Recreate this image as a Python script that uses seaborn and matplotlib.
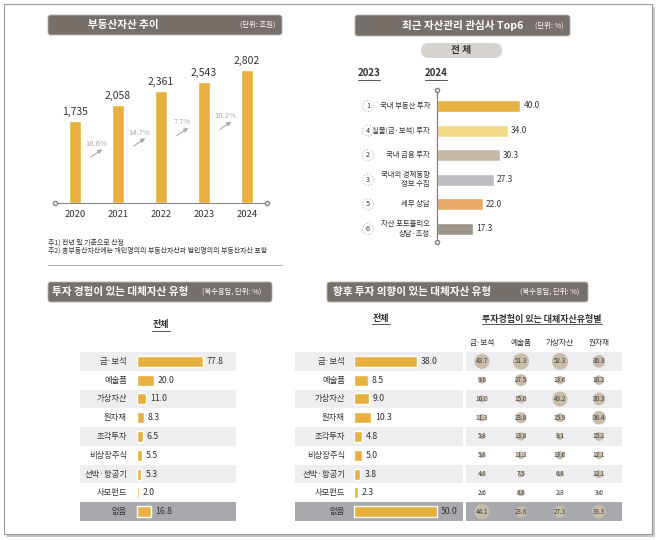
import matplotlib
matplotlib.use("Agg")
import matplotlib.pyplot as plt
import seaborn as sns
import pandas as pd
from matplotlib.patches import Rectangle, FancyBboxPatch
from matplotlib.lines import Line2D

# ---- data ----
years = ['2020', '2021', '2022', '2023', '2024']
re_assets = [1735, 2058, 2361, 2543, 2802]          # 조원
re_growth = [18.6, 14.7, 7.7, 10.2]                 # %

concerns = ['국내 부동산 투자', '실물(금·보석) 투자', '국내 금융 투자',
            '국내외 경제동향\n정보 수집', '세무 상담', '자산 포트폴리오\n상담·조정']
concern_2024 = [40.0, 34.0, 30.3, 27.3, 22.0, 17.3]
rank_2023 = [1, 4, 2, 3, 5, 6]

alt_types = ['금·보석', '예술품', '가상자산', '원자재', '조각투자',
             '비상장주식', '선박·항공기', '사모펀드', '없음']
experienced = [77.8, 20.0, 11.0, 8.3, 6.5, 5.5, 5.3, 2.0, 16.8]
intended = [38.0, 8.5, 9.0, 10.3, 4.8, 5.0, 3.8, 2.3, 50.0]

exp_groups = ['금·보석', '예술품', '가상자산', '원자재']
intend_gold = [43.7, 9.6, 10.0, 11.3, 5.8, 5.8, 4.8, 2.6, 44.1]
intend_art = [51.3, 27.5, 15.0, 23.8, 13.8, 11.3, 7.5, 8.8, 23.8]
intend_crypto = [52.3, 13.6, 43.2, 15.9, 9.1, 13.6, 6.8, 2.3, 27.3]
intend_commod = [30.3, 18.2, 30.3, 36.4, 15.2, 12.1, 12.1, 3.0, 33.3]

# ---- style ----
sns.set_theme(style="white")
plt.rcParams['font.family'] = ['Noto Sans CJK KR', 'DejaVu Sans']

GOLD = '#e8b13f'
HEAD = '#77706a'
DARK = '#333333'
BAND = '#eeeef0'
BAND_DARK = '#a8a9ad'
concern_colors = ['#e8b13f', '#f4d88a', '#c4b8a6', '#bdbdc1', '#e8a86a', '#9c9489']

W, H = 658, 540
fig = plt.figure(figsize=(W / 100, H / 100), dpi=100)


def box(x0, y0, x1, y1):
    return [x0 / W, 1 - y1 / H, (x1 - x0) / W, (y1 - y0) / H]


def ftext(x, y, s, **kw):
    fig.text(x / W, 1 - y / H, s, **kw)


def fline(x0, x1, y0, y1, **kw):
    fig.add_artist(Line2D([x0 / W, x1 / W], [1 - y0 / H, 1 - y1 / H], **kw))


def header(x0, x1, y0, y1, title, unit, tx, ux, title_ha='center'):
    fig.add_artist(FancyBboxPatch((x0 / W, 1 - y1 / H), (x1 - x0) / W, (y1 - y0) / H,
                                  boxstyle='round,pad=0,rounding_size=0.004', fc=HEAD,
                                  ec='#b9b4af', lw=0.6, mutation_aspect=W / H,
                                  transform=fig.transFigure))
    ym = (y0 + y1) / 2
    ftext(tx, ym, title, color='white', fontsize=7.6, fontweight='bold', ha=title_ha, va='center')
    ftext(ux, ym, unit, color='white', fontsize=5.3, ha='center', va='center')


def underlined(x, y, s, x0, x1, yl, size=6.5):
    ftext(x, y, s, fontsize=size, fontweight='bold', color=DARK, ha='center', va='center')
    fline(x0, x1, yl, yl, color='#555555', lw=0.7)


def px2pt(p):
    return p * 72 / 100


# outer frame with shadow
fig.add_artist(Rectangle((7 / W, 1 - 537 / H), 648 / W, 530 / H, fc='#c8c8c8', ec='none',
                         transform=fig.transFigure, zorder=-5))
fig.add_artist(Rectangle((4 / W, 1 - 534 / H), 648 / W, 530 / H, fc='white', ec='#9a9a9a', lw=0.8,
                         transform=fig.transFigure, zorder=-4))

# ---------------- panel 1: 부동산자산 추이 ----------------
header(48, 282, 15, 35, '부동산자산 추이', '(단위: 조원)', 123, 258)
ax1 = fig.add_axes(box(55, 60, 267, 203))
sns.barplot(x=years, y=re_assets, color=GOLD, width=0.28, saturation=1, ax=ax1)
ax1.set_xlim(-0.465, 4.465)
ax1.set_ylim(0, 3013)
ax1.axis('off')
ax1.plot([-0.465, 4.465], [0, 0], color='#8a8a8a', lw=0.8, marker='o', markersize=3,
         mfc='white', mec='#8a8a8a', clip_on=False)
for i, v in enumerate(re_assets):
    ax1.annotate(f'{v:,}', (i, v), xytext=(0, px2pt(4)), textcoords='offset points',
                 ha='center', va='bottom', fontsize=7.5, color=DARK)
    ax1.annotate(years[i], (i, 0), xytext=(0, px2pt(-11)), textcoords='offset points',
                 ha='center', va='center', fontsize=6.8, color=DARK)
for i, g in enumerate(re_growth):
    ty = 0.72 * re_assets[i]
    ax1.text(i + 0.5, ty, f'{g}%', ha='center', va='center', fontsize=5.5, color='#a8a8a8')
    ax1.annotate('', xy=(i + 0.686, ty - 84), xytext=(px2pt(-16), px2pt(-11)),
                 textcoords='offset points',
                 arrowprops=dict(arrowstyle='-|>', color='#a8a8a8', lw=0.8, mutation_scale=6))

ftext(48, 243, '주1) 전년 말 기준으로 산정', fontsize=5, color=DARK, va='center')
ftext(48, 251, '주2) 총부동산자산에는 개인명의의 부동산자산과 법인명의의 부동산자산 포함',
      fontsize=5, color=DARK, va='center')
fline(48, 282, 265, 265, color='#b5b5b5', lw=0.8)

# ---------------- panel 2: 관심사 Top6 ----------------
header(355, 570, 15, 36, '최근 자산관리 관심사 Top6', '(단위: %)', 463, 549)
fig.add_artist(FancyBboxPatch((421 / W, 1 - 58 / H), 81 / W, 15 / H,
                              boxstyle='round,pad=0,rounding_size=0.012', fc='#d6d2ce', ec='none',
                              transform=fig.transFigure, mutation_aspect=W / H))
ftext(461, 50.5, '전 체', fontsize=7, fontweight='bold', color=DARK, ha='center', va='center')
underlined(369, 73, '2023', 358, 380, 80, size=7)
underlined(436, 73, '2024', 425, 447, 80, size=7)

ax2 = fig.add_axes(box(437, 90, 560, 242))
sns.barplot(x=concern_2024, y=concerns, hue=concerns, palette=concern_colors, legend=False,
            width=0.49, saturation=1, orient='h', ax=ax2)
ax2.set_xlim(0, 59)
ax2.set_ylim(5.53, -0.65)
ax2.axis('off')
ax2.plot([0, 0], [-0.65, 5.53], color='#8a7f76', lw=0.9, marker='o', markersize=3,
         mfc='white', mec='#8a7f76', clip_on=False)
for i, (lab, v, r) in enumerate(zip(concerns, concern_2024, rank_2023)):
    ax2.annotate(lab, (0, i), xytext=(px2pt(-7), 0), textcoords='offset points',
                 ha='right', va='center', fontsize=5.3, color=DARK, linespacing=1.2)
    ax2.annotate(f'{v:.1f}', (v, i), xytext=(px2pt(3), 0), textcoords='offset points',
                 ha='left', va='center', fontsize=6, color=DARK)
    ax2.annotate(str(r), (0, i), xytext=(px2pt(-69), 0), textcoords='offset points',
                 ha='center', va='center', fontsize=5.2, color=DARK,
                 bbox=dict(boxstyle='circle,pad=0.22', fc='white', ec='#bdbdbd', lw=0.8, ls=':'))

# ---------------- panel 3: 투자 경험 ----------------
header(48, 272, 282, 302, '투자 경험이 있는 대체자산 유형', '(복수응답, 단위: %)', 52, 232,
       title_ha='left')
underlined(161, 325, '전체', 152, 170, 331)


def bands(ax, n):
    for i in range(n):
        if i == n - 1:
            ax.axhspan(i - 0.5, i + 0.5, color=BAND_DARK, zorder=0, lw=0)
        elif i % 2 == 0:
            ax.axhspan(i - 0.5, i + 0.5, color=BAND, zorder=0, lw=0)


def bar_table(rect, values, zero_px, scale, label_gap):
    x0, y0, x1, y1 = rect
    ax = fig.add_axes(box(x0, y0, x1, y1))
    sns.barplot(x=values, y=alt_types, color=GOLD, width=0.58, saturation=1, orient='h', ax=ax)
    ax.set_xlim(-(zero_px - x0) / scale, (x1 - zero_px) / scale)
    ax.set_ylim(len(alt_types) - 0.5, -0.5)
    ax.axis('off')
    bands(ax, len(alt_types))
    for i, (lab, v) in enumerate(zip(alt_types, values)):
        ax.annotate(lab, (0, i), xytext=(px2pt(-label_gap), 0), textcoords='offset points',
                    ha='right', va='center', fontsize=6, color=DARK)
        ax.annotate(f'{v:.1f}', (v, i), xytext=(px2pt(4), 0), textcoords='offset points',
                    ha='left', va='center', fontsize=6.3, color=DARK)
    return ax


bar_table((80, 352, 236, 521), experienced, 137, 0.848, 10)

# ---------------- panel 4: 향후 투자 의향 ----------------
header(327, 588, 282, 302, '향후 투자 의향이 있는 대체자산 유형', '(복수응답, 단위: %)', 333, 550,
       title_ha='left')
underlined(381, 319, '전체', 372, 390, 324)
underlined(542, 319, '투자경험이 있는 대체자산유형별', 482, 602, 324)

bar_table((295, 352, 463, 521), intended, 354, 1.65, 9)

ax5 = fig.add_axes(box(466, 352, 622, 521))
cross = pd.DataFrame({'금·보석': intend_gold, '예술품': intend_art,
                      '가상자산': intend_crypto, '원자재': intend_commod}, index=alt_types)
long = cross.reset_index(names='type').melt(id_vars='type', var_name='group', value_name='pct')
sns.scatterplot(data=long, x='group', y='type', size='pct', sizes=(2.7 * 2.3, 2.7 * 52.3),
                size_norm=(2.3, 52.3), color='#c9bda9', edgecolor='none', legend=False,
                ax=ax5, zorder=3)
ax5.set_xlim(-0.41, 3.59)
ax5.set_ylim(len(alt_types) - 0.5, -0.5)
ax5.axis('off')
bands(ax5, len(alt_types))
for j, g in enumerate(exp_groups):
    ax5.text(j, -0.96, g, ha='center', va='center', fontsize=5.5, color=DARK)
    for i, v in enumerate(cross[g]):
        ax5.text(j, i, f'{v:.1f}', ha='center', va='center', fontsize=4.6, color='#3a3a3a',
                 zorder=4)

fig.savefig('out.png', dpi=100)
